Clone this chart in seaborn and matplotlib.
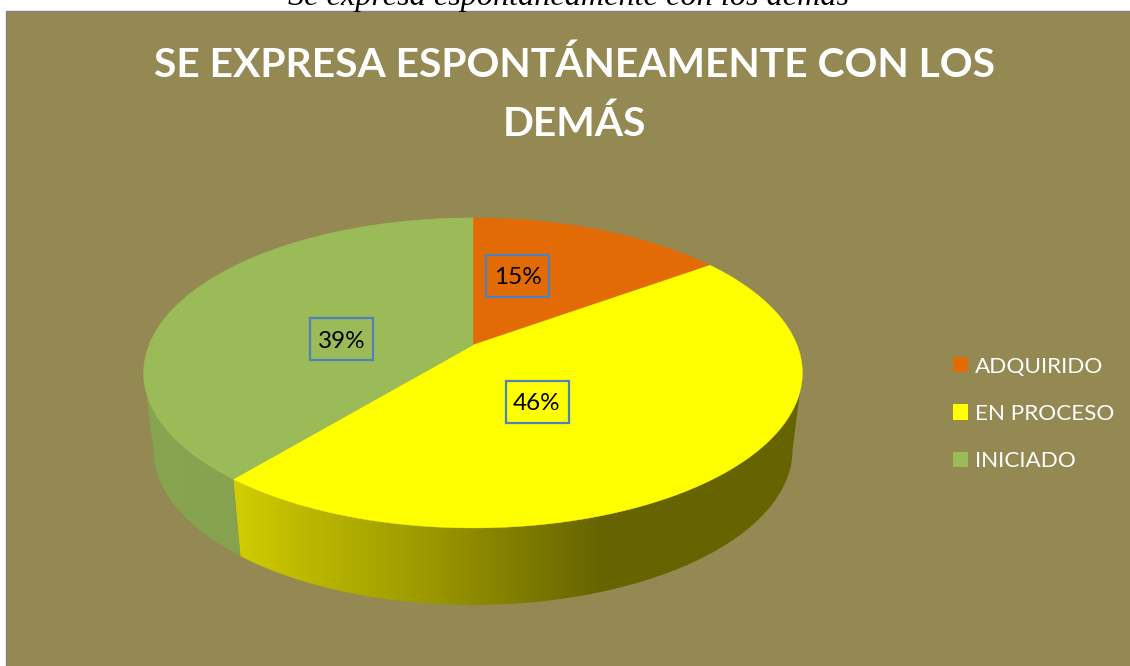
import numpy as np
import seaborn as sns
import matplotlib.pyplot as plt
from matplotlib.colors import LinearSegmentedColormap
from matplotlib.patches import Patch, PathPatch, Rectangle
from matplotlib.path import Path

# datos del grafico
categorias = ["ADQUIRIDO", "EN PROCESO", "INICIADO"]
porcentajes = [15, 46, 39]
titulo = "SE EXPRESA ESPONTÁNEAMENTE CON LOS\nDEMÁS"
encabezado = "Se expresa espontáneamente con los demás"

colores = sns.color_palette(["#e26b05", "#ffff00", "#9bbb59"])
fondo = "#948853"

sns.set_theme(style="white")
plt.rcParams["font.family"] = ["Lato", "DejaVu Sans"]

fig = plt.figure(figsize=(11.3, 6.66), dpi=100, facecolor="white")
ax = fig.add_axes([0, 0, 1, 1])
ax.set_xlim(0, 1130)
ax.set_ylim(666, 0)
ax.axis("off")

ax.add_patch(Rectangle((5.5, 11), 1130, 660, facecolor=fondo, edgecolor="#80808f", linewidth=1))


# perspectiva del disco: theta en grados, sentido horario desde arriba
def disco(theta, abajo=False):
    t = np.radians(theta)
    w = 1 + 0.18 * np.cos(t)
    x = 324 * np.sin(t) / w
    y = 150 * np.cos(t) / w
    if abajo:
        return 473 + 0.97 * x, 345 - y + 77
    return 473 + x, 345 - y


def lado(ini, fin, cmap):
    th = np.linspace(ini, fin, 200)
    x1, y1 = disco(th)
    x2, y2 = disco(th, abajo=True)
    px = np.r_[x1, x2[::-1]]
    py = np.r_[y1, y2[::-1]]
    parche = PathPatch(Path(np.c_[px, py]), facecolor="none", edgecolor="none")
    ax.add_patch(parche)
    grad = np.linspace(0, 1, 600)[None, :]
    im = ax.imshow(grad, extent=(140, 810, 620, 200), cmap=cmap, aspect="auto", zorder=2)
    im.set_clip_path(parche)


angulos = np.cumsum([0] + porcentajes) * 3.6

# degradados de los lados, de izquierda a derecha
cmap_amarillo = LinearSegmentedColormap.from_list(
    "amarillo",
    [(0, "#d2ce00"), (0.139, "#d2ce00"), (0.239, "#bdb900"), (0.388, "#a3a000"),
     (0.507, "#8c8900"), (0.69, "#666400"), (1, "#666400")],
)
cmap_verde = LinearSegmentedColormap.from_list("verde", ["#88a550", "#7a9348"])

# el lado visible llega hasta los puntos mas anchos del disco
lado(100.4, angulos[2], cmap_amarillo)
lado(angulos[2], 259.6, cmap_verde)
ax.set_xlim(0, 1130)
ax.set_ylim(666, 0)

# cara superior
for i, color in enumerate(colores):
    th = np.linspace(angulos[i], angulos[i + 1], 200)
    x, y = disco(th)
    ax.fill(np.r_[473, x], np.r_[345, y], color=color, linewidth=0.3, zorder=3)

# etiquetas
pos_etiquetas = [(517.5, 276), (537, 402), (341.5, 339)]
for p, (ex, ey) in zip(porcentajes, pos_etiquetas):
    ax.add_patch(Rectangle((ex - 31.5, ey - 21), 63, 42, facecolor="none",
                           edgecolor="#4f81bd", linewidth=1.6, zorder=4))
    ax.text(ex, ey + 2, f"{p}%", ha="center", va="center", fontsize=17.5,
            color="black", zorder=5)

ax.text(574, 94.5, titulo, ha="center", va="center", fontsize=29.3, fontweight="bold",
        color="white", linespacing=1.69, zorder=5)
ax.text(569, 5, encabezado, ha="center", va="baseline", fontsize=23.2, style="italic",
        family="Liberation Serif", color="black", clip_on=True)

handles = [Patch(facecolor=c, edgecolor="none") for c in colores]
ax.legend(handles, categorias, loc="center left", bbox_to_anchor=(953 / 1130, 1 - 414 / 666),
          bbox_transform=fig.transFigure, frameon=False, fontsize=16.2, labelcolor="white",
          handlelength=0.667, handleheight=0.667, handletextpad=0.3, labelspacing=1.22,
          borderpad=0, borderaxespad=0)

fig.savefig("out.png", dpi=100, facecolor="white")
